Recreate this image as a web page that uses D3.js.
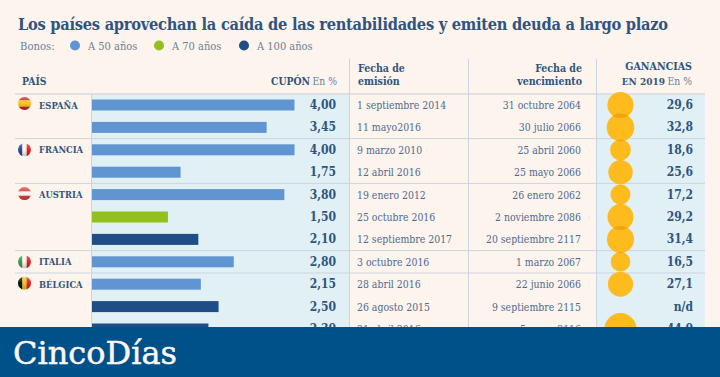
<!DOCTYPE html>
<html><head><meta charset="utf-8">
<script src="https://cdn.jsdelivr.net/npm/d3@7"></script>
<style>html,body{margin:0;padding:0;background:#fdf4ed;overflow:hidden}svg{display:block}text{font-family:"DejaVu Serif Condensed","DejaVu Serif",serif}</style>
</head><body><svg id="c" width="720" height="377"></svg>
<script>
const countries=["ESPAÑA","","FRANCIA","","AUSTRIA","","","ITALIA","BÉLGICA","",""];
const flags=["es","","fr","","at","","","it","be","",""];
const coupons=[4.00,3.45,4.00,1.75,3.80,1.50,2.10,2.80,2.15,2.50,2.30];
const terms=[50,50,50,50,50,70,100,50,50,100,100];
const issued=["1 septiembre 2014","11 mayo2016","9 marzo 2010","12 abril 2016","19 enero 2012","25 octubre 2016","12 septiembre 2017","3 octubre 2016","28 abril 2016","26 agosto 2015","21 abril 2016"];
const maturity=["31 octubre 2064","30 julio 2066","25 abril 2060","25 mayo 2066","26 enero 2062","2 noviembre 2086","20 septiembre 2117","1 marzo 2067","22 junio 2066","9 septiembre 2115","5 mayo 2116"];
const gains=[29.6,32.8,18.6,25.6,17.2,29.2,31.4,16.5,27.1,null,44.0];
const legendTerms=[50,70,100];
const separatorsAfter=[1,3,6,7];

const navy="#2f5480", grey="#6b7f99";
const colour=d3.scaleOrdinal().domain(legendTerms).range(["#5f96d1","#93c01f","#1f4e86"]);
const svg=d3.select("#c");
const defs=svg.append("defs");
const rows=d3.range(coupons.length);
const y=d3.scalePoint().domain(rows).range([105,329]);
const x=d3.scaleLinear().domain([0,4]).range([92,294.5]);
const r=d3.scaleSqrt().domain([0,44]).range([0,16]);
const comma=d3.format(".2f"), comma1=d3.format(".1f");
const es=s=>s.replace(".",",");
const T=(xp,yp,s,o={})=>svg.append("text").attr("x",xp).attr("y",yp).text(s)
  .attr("font-size",o.size||10.5).attr("font-weight",o.w||"normal").attr("fill",o.fill||navy)
  .attr("text-anchor",o.a||"start").attr("letter-spacing",o.ls||null);

// panels
svg.append("rect").attr("x",92).attr("y",94).attr("width",257).attr("height",240).attr("fill","#e0f0f4");
svg.append("rect").attr("x",597).attr("y",94).attr("width",108).attr("height",240).attr("fill","#e0f0f4");

// title + legend
T(18,30,"Los países aprovechan la caída de las rentabilidades y emiten deuda a largo plazo",{size:16.3,w:"bold",ls:-0.27});
T(20,50,"Bonos:",{size:11.2,fill:grey});
const lgX=[75,159,244], lgNames=["A 50 años","A 70 años","A 100 años"];
legendTerms.forEach((t,i)=>{
  svg.append("circle").attr("cx",lgX[i]).attr("cy",45.5).attr("r",5).attr("fill",colour(t));
  T(lgX[i]+13,50,lgNames[i],{size:11,fill:grey});
});

// header
T(22,85,"PAÍS",{size:10.3,w:"bold"});
T(310,85,"CUPÓN",{size:10.3,w:"bold",a:"end"});
T(337,85,"En %",{size:10.3,fill:grey,a:"end"});
T(358,72,"Fecha de",{size:10.5,w:"bold"});
T(358,85,"emisión",{size:10.5,w:"bold"});
T(582,72,"Fecha de",{size:10.5,w:"bold",a:"end"});
T(582,85,"vencimiento",{size:10.5,w:"bold",a:"end"});
T(692,70,"GANANCIAS",{size:10.6,w:"bold",a:"end"});
T(665,85,"EN 2019",{size:10,w:"bold",a:"end"});
T(692,85,"En %",{size:10.3,fill:grey,a:"end"});

// rules
svg.append("rect").attr("x",15).attr("y",93).attr("width",690).attr("height",2).attr("fill","#dfe0e4");
separatorsAfter.forEach(i=>{
  const yy=(y(i)+y(i+1))/2;
  svg.append("line").attr("x1",15).attr("x2",705).attr("y1",yy).attr("y2",yy).attr("stroke","#cdd3e2").attr("stroke-width",1);
});
[[91.5,94,334],[349.5,59,334],[468.5,59,334],[596.5,59,334]].forEach(([xx,a,b])=>
  svg.append("line").attr("x1",xx).attr("x2",xx).attr("y1",a).attr("y2",b).attr("stroke","#cdd3e2").attr("stroke-width",1));

// bars
svg.selectAll("rect.bar").data(rows).join("rect").attr("class","bar")
  .attr("x",x(0)).attr("y",i=>y(i)-5.5).attr("height",11)
  .attr("width",i=>x(coupons[i])-x(0)).attr("fill",i=>colour(terms[i]));

// bubbles, with the overlap of neighbouring bubbles shown darker
const bubbleRows=rows.filter(i=>gains[i]!=null);
svg.selectAll("circle.g").data(bubbleRows).join("circle").attr("class","g")
  .attr("cx",620.5).attr("cy",i=>y(i)).attr("r",i=>r(gains[i])).attr("fill","#fdbb1e");
bubbleRows.forEach(i=>{
  if(gains[i+1]==null) return;
  defs.append("clipPath").attr("id","b"+i).append("circle").attr("cx",620.5).attr("cy",y(i)).attr("r",r(gains[i]));
  svg.append("circle").attr("cx",620.5).attr("cy",y(i+1)).attr("r",r(gains[i+1]))
    .attr("fill","#f3a20c").attr("clip-path",`url(#b${i})`);
});

// row text
rows.forEach(i=>{
  const yy=y(i)+4;
  if(countries[i]) T(39,y(i)+3.5,countries[i],{size:9.3,w:"bold"});
  T(336,yy,es(comma(coupons[i])),{size:12,w:"bold",a:"end"});
  T(357,yy,issued[i],{size:10.4,fill:"#4f6a8f"});
  T(581,yy,maturity[i],{size:10.4,fill:"#4f6a8f",a:"end"});
  T(693,yy,gains[i]==null?"n/d":es(comma1(gains[i])),{size:12,w:"bold",a:"end"});
});

// flags
const gloss=defs.append("linearGradient").attr("id","gloss").attr("x1",0).attr("x2",0).attr("y1",0).attr("y2",1);
[[0,"#fff",.3],[.5,"#fff",0],[.5,"#000",0],[1,"#000",.2]].forEach(([o,c,a])=>
  gloss.append("stop").attr("offset",o).attr("stop-color",c).attr("stop-opacity",a));
const stripes={es:["h",["#c8222a","#f6c21c","#f6c21c","#c8222a"]],fr:["v",["#2b4a94","#fdf4ed","#d9262c"]],at:["h",["#d9403c","#fdf4ed","#d9403c"]],it:["v",["#3a9a4a","#fdf4ed","#d9262c"]],be:["v",["#111","#f6c21c","#d9262c"]]};
const flagOffset={es:-1.5,fr:0,at:-1,it:0,be:-1};
rows.filter(i=>flags[i]).forEach(i=>{
  const f=flags[i], id="cl"+f, cy=y(i)+flagOffset[f];
  defs.append("clipPath").attr("id",id).append("circle").attr("cx",24.5).attr("cy",cy).attr("r",6.5);
  const g=svg.append("g").attr("clip-path",`url(#${id})`);
  const [dir,cols]=stripes[f], n=cols.length;
  cols.forEach((c,k)=>{
    if(dir==="h") g.append("rect").attr("x",18).attr("width",13).attr("y",cy-6.5+13*k/n).attr("height",13/n+.3).attr("fill",c);
    else g.append("rect").attr("y",cy-6.5).attr("height",13).attr("x",18+13*k/n).attr("width",13/n+.3).attr("fill",c);
  });
  g.append("rect").attr("x",18).attr("width",13).attr("y",cy-6.5).attr("height",13).attr("fill","url(#gloss)");
});

// footer
svg.append("rect").attr("x",0).attr("y",327).attr("width",720).attr("height",50).attr("fill","#00508a");
T(13,364,"CincoDías",{size:32,fill:"#fbf6ee"}).style("font-family","'DejaVu Serif',serif").attr("stroke","#fbf6ee").attr("stroke-width",0.5);
</script></body></html>
